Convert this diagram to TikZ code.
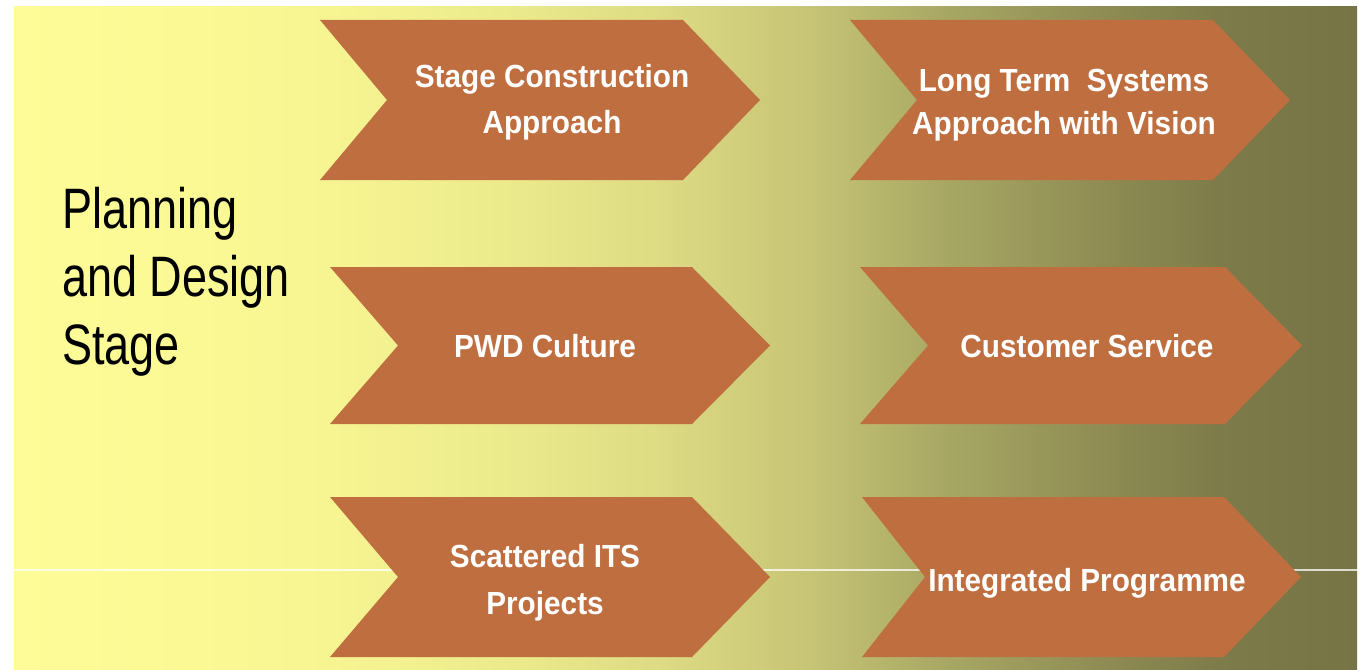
\documentclass[tikz,border=0pt]{standalone}
\usepackage{fontspec}
\setmainfont{Liberation Sans}
\usetikzlibrary{calc}

% horizontal background ramp: pale yellow to dark olive
\pgfdeclarehorizontalshading{bgramp}{100bp}{%
  rgb(0bp)=(0.992,0.988,0.596);
  rgb(25bp)=(0.992,0.988,0.596);
  rgb(31.9bp)=(0.980,0.976,0.580);
  rgb(36.8bp)=(0.969,0.961,0.573);
  rgb(43.1bp)=(0.925,0.922,0.549);
  rgb(48.7bp)=(0.871,0.863,0.518);
  rgb(54.3bp)=(0.784,0.776,0.463);
  rgb(59.8bp)=(0.655,0.655,0.392);
  rgb(65.4bp)=(0.561,0.553,0.329);
  rgb(69.9bp)=(0.490,0.482,0.286);
  rgb(75bp)=(0.463,0.455,0.271);
  rgb(100bp)=(0.463,0.455,0.271)}

\definecolor{chevfill}{RGB}{191,110,63}

\tikzset{
  chevbox/.style={fill=chevfill, draw=none},
  chevtext/.style={anchor=base, text=white, inner sep=0pt,
    font=\bfseries\fontsize{32}{46}\selectfont},
  stagetext/.style={anchor=base west, text=black, inner sep=0pt,
    font=\fontsize{57}{68}\selectfont},
  guide/.style={draw=white, opacity=0.75, line width=1.4pt}
}

% chevron: left x, top y, bottom y, notch depth, tip depth, length
\newcommand\chevronshape[6]{%
  \path[chevbox] (#1,#2) -- ({#1+#6-#5},#2) -- ({#1+#6},{(#2+#3)/2})
    -- ({#1+#6-#5},#3) -- (#1,#3) -- ({#1+#4},{(#2+#3)/2}) -- cycle;}

\newcommand\squeeze[2]{\scalebox{#1}[1]{#2}}

\begin{document}
\begin{tikzpicture}[x=1pt,y=-1pt]
  \useasboundingbox (0,0) rectangle (1359,669);
  \fill[white] (0,0) rectangle (1359,669);
  \shade[shading=bgramp] (14,7) rectangle (1357,669);

  % thin guide line across the lower row
  \coordinate (gl) at (14,570);
  \coordinate (gr) at (1357,570);
  \draw[guide] (gl) -- (gr);

  % chevrons
  \chevronshape{320}{20}{180}{67}{77}{440}
  \chevronshape{850}{20}{180}{67}{77}{440}
  \chevronshape{330}{267}{424}{68}{78}{440}
  \chevronshape{860}{267}{424}{68}{77}{442}
  \chevronshape{330}{497}{657}{68}{78}{440}
  \chevronshape{862}{497}{657}{63}{77}{439}

  % stage title
  \node[stagetext] (stage) at (62,228)
    {\squeeze{0.79}{\begin{tabular}[t]{@{}l@{}}Planning\\and Design\\Stage\end{tabular}}};

  % chevron labels
  \node[chevtext] (sca) at (552,88)
    {\squeeze{0.93}{\begin{tabular}[t]{@{}c@{}}Stage Construction\\Approach\end{tabular}}};
  \node[chevtext, font=\bfseries\fontsize{32}{43}\selectfont] (lts) at (1064,92)
    {\squeeze{0.93}{\begin{tabular}[t]{@{}c@{}}Long Term\ \ Systems\\Approach with Vision\end{tabular}}};
  \node[chevtext] (pwd) at (545,357) {\squeeze{0.93}{PWD Culture}};
  \node[chevtext] (cs) at (1087,357) {\squeeze{0.93}{Customer Service}};
  \node[chevtext, font=\bfseries\fontsize{32}{47}\selectfont] (its) at (545,567)
    {\squeeze{0.93}{\begin{tabular}[t]{@{}c@{}}Scattered ITS\\Projects\end{tabular}}};
  \node[chevtext] (ip) at (1087,591) {\squeeze{0.93}{Integrated Programme}};
\end{tikzpicture}
\end{document}
